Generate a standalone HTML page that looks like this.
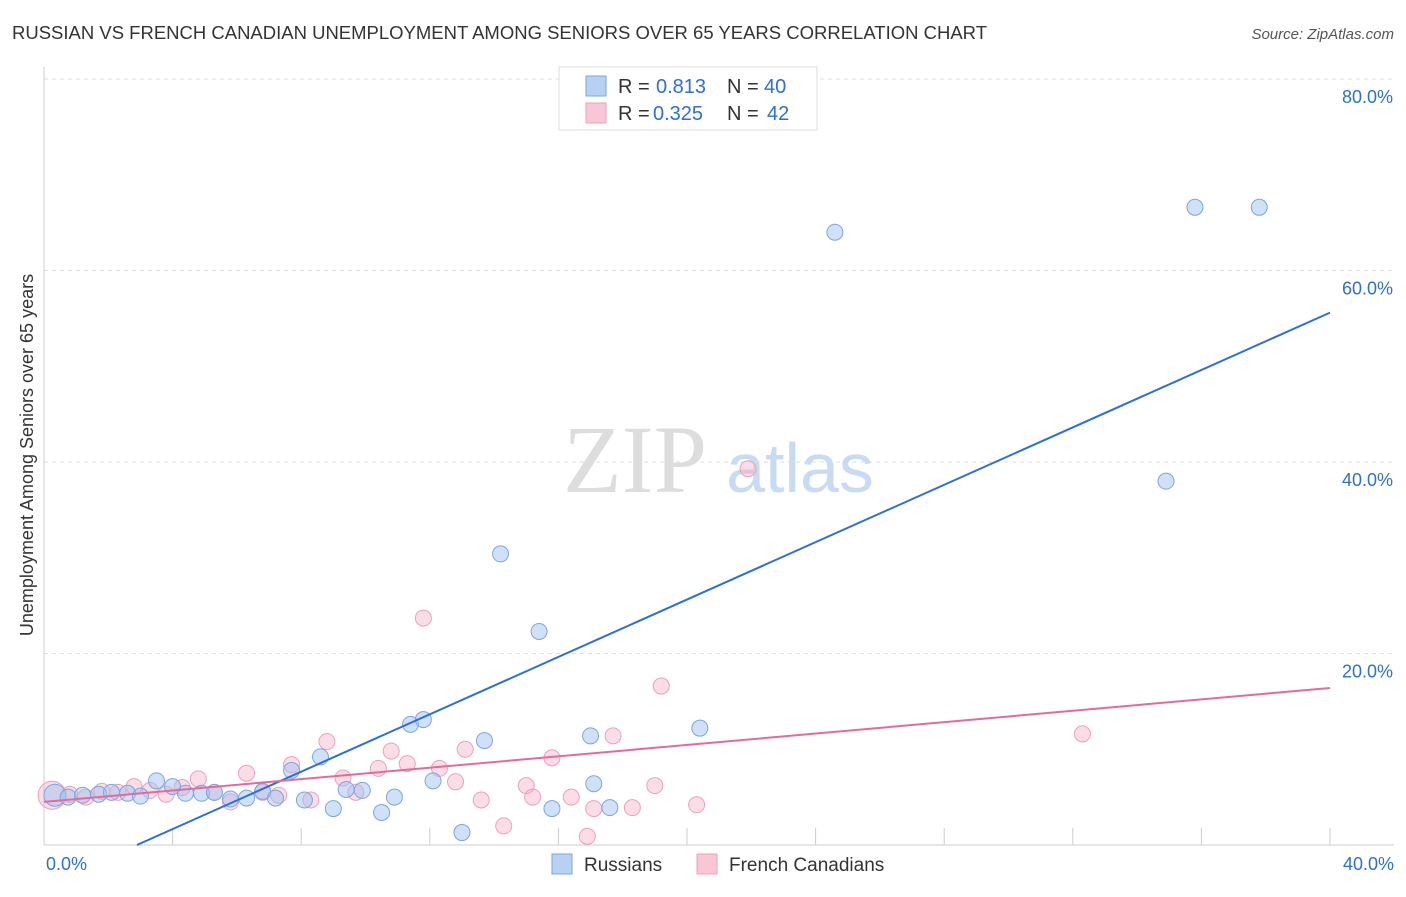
<!DOCTYPE html>
<html><head><meta charset="utf-8"><style>
body{margin:0;background:#fff;font-family:"Liberation Sans",sans-serif}
</style></head><body>
<svg width="1406" height="892" xmlns="http://www.w3.org/2000/svg">
<text x="12" y="39" font-size="18" fill="#333" textLength="975" lengthAdjust="spacingAndGlyphs">RUSSIAN VS FRENCH CANADIAN UNEMPLOYMENT AMONG SENIORS OVER 65 YEARS CORRELATION CHART</text>
<text x="1394" y="39" font-size="15" fill="#555" font-style="italic" text-anchor="end">Source: ZipAtlas.com</text>
<g id="grid"></g>
<text x="635" y="492" font-size="96" fill="#ddd" font-family="Liberation Serif,serif" text-anchor="middle">ZIP</text>
<text x="800" y="492" font-size="70" fill="#c9dbf3" text-anchor="middle">atlas</text>
<g id="pts"></g>
<g id="lines"></g>
<text x="33" y="455" font-size="18" fill="#333" text-anchor="middle" transform="rotate(-90 33 455)">Unemployment Among Seniors over 65 years</text>
<g>
<rect x="559" y="67" width="258" height="63" fill="#fff" stroke="#ddd"/>
<rect x="586" y="76" width="20" height="20" fill="#b8d0f2" stroke="#7aa7e0"/>
<rect x="586" y="103" width="20" height="20" fill="#f8c6d5" stroke="#eea0b8"/>
<text x="618" y="93" font-size="20" fill="#333">R =</text>
<text x="656" y="93" font-size="20" fill="#2c6fd8">0.813</text>
<text x="727" y="93" font-size="20" fill="#333">N =</text>
<text x="764" y="93" font-size="20" fill="#2c6fd8">40</text>
<text x="618" y="120" font-size="20" fill="#333">R =</text>
<text x="653" y="120" font-size="20" fill="#2c6fd8">0.325</text>
<text x="727" y="120" font-size="20" fill="#333">N =</text>
<text x="767" y="120" font-size="20" fill="#2c6fd8">42</text>
</g>
<g>
<rect x="552" y="854" width="20" height="20" fill="#b8d0f2" stroke="#7aa7e0"/>
<text x="584" y="871" font-size="19" fill="#333">Russians</text>
<rect x="697" y="854" width="20" height="20" fill="#f8c6d5" stroke="#eea0b8"/>
<text x="729" y="871" font-size="19" fill="#333">French Canadians</text>
</g>
</svg>
<script>
const yTicks=[20,40,60,80];
const yTickLabels=["20.0%","40.0%","60.0%","80.0%"];
const xTickLabels=["0.0%","40.0%"];
const blueX=[0.34,0.75,1.2,1.7,2.1,2.6,3.0,3.5,4.0,4.4,4.9,5.3,5.8,6.3,6.8,7.2,7.7,8.1,8.6,9.0,9.4,9.9,10.5,10.9,11.4,11.8,12.1,13.0,13.7,14.2,15.4,15.8,17.0,17.1,17.6,20.4,24.6,34.9,35.8,37.8];
const blueY=[5.2,5.0,5.2,5.3,5.5,5.4,5.1,6.7,6.1,5.4,5.4,5.5,4.8,4.9,5.6,4.9,7.8,4.7,9.2,3.8,5.8,5.7,3.4,5.0,12.6,13.1,6.7,1.3,10.9,30.4,22.3,3.8,11.4,6.4,3.9,12.2,64.0,38.0,66.6,66.6];
const pinkX=[0.25,0.8,1.3,1.8,2.3,2.8,3.3,3.8,4.3,4.8,5.3,5.8,6.3,6.8,7.3,7.7,8.3,8.8,9.3,9.7,10.4,10.8,11.3,11.8,12.3,12.8,13.1,13.6,14.3,15.0,15.2,15.8,16.4,16.9,17.1,17.7,18.3,19.0,19.2,20.3,21.9,32.3];
const pinkY=[5.2,5.3,5.0,5.6,5.5,6.1,5.7,5.3,6.0,6.9,5.5,4.5,7.5,5.5,5.2,8.4,4.7,10.8,7.0,5.5,8.0,9.8,8.5,23.7,8.0,6.6,10.0,4.7,2.0,6.2,5.0,9.1,5.0,0.9,3.8,11.4,3.9,6.2,16.6,4.2,39.3,11.6];
const blueLine=[[2.89,0],[40,55.6]];
const pinkLine=[[0,4.5],[40,16.4]];
const X=v=>44+v/40*1286, Y=v=>845-v*9.575;
const NS="http://www.w3.org/2000/svg";
function mk(t,a,p){const e=document.createElementNS(NS,t);for(const k in a)e.setAttribute(k,a[k]);p.appendChild(e);return e;}
const g=document.getElementById('grid');
yTicks.forEach((t,i)=>{
 const l=mk('line',{x1:44,x2:1394,y1:Y(t),y2:Y(t),stroke:'#ddd','stroke-dasharray':'4,4'},g);
 
 
 const tx=mk('text',{x:1393,y:Y(t)+24,'font-size':18,fill:'#2c6fd8','text-anchor':'end'},g);tx.textContent=yTickLabels[i];
 
 
});
mk('line',{x1:44,x2:44,y1:67,y2:845,stroke:'#ccc'},g);
mk('line',{x1:44,x2:1394,y1:845,y2:845,stroke:'#ccc'},g);
for(let i=0;i<=10;i++){const t=mk('line',{x1:X(i*4),x2:X(i*4),y1:828,y2:845,stroke:'#ccc'},g);
 
 }
[[0,'start',46],[40,'end',1394]].forEach((d,i)=>{const t=mk('text',{x:d[2],y:870,'font-size':18,fill:'#2c6fd8','text-anchor':d[1]},g);t.textContent=xTickLabels[i];
 
 });
const p=document.getElementById('pts');
pinkX.forEach((x,i)=>{const c=mk('circle',{cx:X(x),cy:Y(pinkY[i]),r:i==0?14:8,fill:'rgba(244,170,195,0.4)',stroke:'#eea0b8','stroke-width':1},p);
 
 });
blueX.forEach((x,i)=>{const c=mk('circle',{cx:X(x),cy:Y(blueY[i]),r:i==0?11:8,fill:'rgba(160,194,240,0.5)',stroke:'#7aa7e0','stroke-width':1},p);
 
 });
const L=document.getElementById('lines');
const bl=mk('line',{x1:X(blueLine[0][0]),y1:Y(blueLine[0][1]),x2:X(blueLine[1][0]),y2:Y(blueLine[1][1]),stroke:'#2c6fd8','stroke-width':2},L);


const pl=mk('line',{x1:X(pinkLine[0][0]),y1:Y(pinkLine[0][1]),x2:X(pinkLine[1][0]),y2:Y(pinkLine[1][1]),stroke:'#e8689a','stroke-width':2},L);


</script>
</body></html>
